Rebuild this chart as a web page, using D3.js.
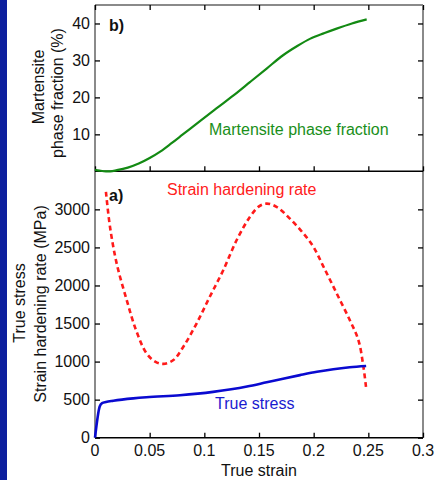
<!DOCTYPE html>
<html><head><meta charset="utf-8">
<script src="https://cdn.jsdelivr.net/npm/d3@7"></script>
<style>
html,body{margin:0;padding:0;background:#fff;}
svg{display:block;font-family:"Liberation Sans",Arial,sans-serif;}
</style></head>
<body>
<svg id="chart" width="436" height="484"></svg>
<script>
// ---- data ----
const xTicks = [0, 0.05, 0.1, 0.15, 0.2, 0.25, 0.3];
const xTickLabels = ["0", "0.05", "0.1", "0.15", "0.2", "0.25", "0.3"];
const topYTicks = [10, 20, 30, 40];
const bottomYTicks = [0, 500, 1000, 1500, 2000, 2500, 3000];

const martStrain = [0, 0.004, 0.010, 0.014, 0.020, 0.030, 0.040, 0.050, 0.060, 0.070, 0.080, 0.096, 0.111, 0.127, 0.142, 0.157, 0.172, 0.185, 0.197, 0.210, 0.221, 0.235, 0.2485];
const martFraction = [0.4, 0.2, 0.0, 0.0, 0.3, 1.0, 2.1, 3.6, 5.4, 7.6, 9.9, 13.6, 17.0, 20.6, 24.2, 27.8, 31.4, 33.9, 35.9, 37.4, 38.6, 40.0, 41.1];

const hardStrain = [0.010, 0.0137, 0.0198, 0.029, 0.0375, 0.047, 0.055, 0.0625, 0.0717, 0.0808, 0.093, 0.105, 0.1174, 0.1296, 0.1418, 0.150, 0.157, 0.166, 0.178, 0.1905, 0.1997, 0.209, 0.221, 0.233, 0.2409, 0.2455, 0.248];
const hardRate = [3231, 2772, 2290, 1809, 1415, 1110, 1000, 970, 1020, 1195, 1503, 1852, 2203, 2597, 2903, 3040, 3075, 3034, 2882, 2685, 2509, 2246, 1897, 1546, 1283, 933, 649];

const stressStrain = [0, 0.0043, 0.0065, 0.010, 0.0168, 0.035, 0.047, 0.0777, 0.108, 0.139, 0.157, 0.172, 0.1875, 0.203, 0.218, 0.233, 0.248];
const trueStress = [0, 410, 455, 470, 486, 517, 532, 558, 602, 672, 728, 775, 822, 866, 900, 925, 942];

// ---- layout ----
const svg = d3.select("#chart");
const L = 95, R = 423, T = 5, MID = 171.3, B = 437.7;
const font = 16;

svg.append("rect").attr("x",0).attr("y",0).attr("width",7).attr("height",480).attr("fill","#0d1f9e");

const x = d3.scaleLinear().domain([0, 0.3]).range([L, R]);
const yTop = d3.scaleLinear().domain([0, 45]).range([MID, T]);
const yBot = d3.scaleLinear().domain([0, 3500]).range([B, MID]);

// frames
const frameGray = "#8a8a8a";
svg.append("line").attr("x1",L).attr("x2",L).attr("y1",T).attr("y2",B).attr("stroke",frameGray).attr("stroke-width",2);
svg.append("line").attr("x1",R).attr("x2",R).attr("y1",T).attr("y2",B).attr("stroke",frameGray).attr("stroke-width",2);
svg.append("line").attr("x1",L).attr("x2",R).attr("y1",T).attr("y2",T).attr("stroke",frameGray).attr("stroke-width",2);

// ticks via axes
function tickAxis(g, axis){ g.call(axis); g.select(".domain").remove(); g.selectAll(".tick line").attr("stroke","#000").attr("stroke-width",1.3); g.selectAll("text").remove(); }

// top panel
svg.append("g").attr("transform",`translate(0,${T})`).call(g=>tickAxis(g, d3.axisBottom(x).tickValues(xTicks).tickSize(5)));
svg.append("g").attr("transform",`translate(0,${MID})`).call(g=>tickAxis(g, d3.axisTop(x).tickValues(xTicks).tickSize(5)));
svg.append("g").attr("transform",`translate(${L},0)`).call(g=>tickAxis(g, d3.axisRight(yTop).tickValues(topYTicks).tickSize(5)));
svg.append("g").attr("transform",`translate(${R},0)`).call(g=>tickAxis(g, d3.axisLeft(yTop).tickValues(topYTicks).tickSize(5)));
// bottom panel
svg.append("g").attr("transform",`translate(0,${B})`).call(g=>tickAxis(g, d3.axisTop(x).tickValues(xTicks).tickSize(5)));
svg.append("g").attr("transform",`translate(${L},0)`).call(g=>tickAxis(g, d3.axisRight(yBot).tickValues(bottomYTicks).tickSize(5)));
svg.append("g").attr("transform",`translate(${R},0)`).call(g=>tickAxis(g, d3.axisLeft(yBot).tickValues(bottomYTicks).tickSize(5)));

// divider and bottom axis lines
svg.append("line").attr("x1",L).attr("x2",R).attr("y1",MID).attr("y2",MID).attr("stroke","#000").attr("stroke-width",1.6);
svg.append("line").attr("x1",L).attr("x2",R).attr("y1",B).attr("y2",B).attr("stroke","#000").attr("stroke-width",1.6);

// tick labels
svg.append("g").selectAll("text").data(topYTicks).join("text")
  .attr("x",90).attr("y",d=>yTop(d)).attr("dy","0.36em").attr("text-anchor","end")
  .attr("font-size",font).attr("fill","#111").text(d=>d);
svg.append("g").selectAll("text").data(bottomYTicks).join("text")
  .attr("x",90).attr("y",d=>yBot(d)).attr("dy","0.36em").attr("text-anchor","end")
  .attr("font-size",font).attr("fill","#111").text(d=>d);
svg.append("g").selectAll("text").data(xTicks).join("text")
  .attr("x",d=>x(d)).attr("y",456).attr("text-anchor","middle")
  .attr("font-size",font).attr("fill","#111").text((d,i)=>xTickLabels[i]);

// axis titles
svg.append("text").attr("x",259).attr("y",476).attr("text-anchor","middle").attr("font-size",font).attr("fill","#111").text("True strain");
function vtext(cx, cy, s){
  svg.append("text").attr("transform",`translate(${cx},${cy}) rotate(-90)`).attr("dy","0.35em")
    .attr("text-anchor","middle").attr("font-size",font).attr("fill","#111").text(s);
}
vtext(38, 87, "Martensite");
vtext(57, 93, "phase fraction (%)");
vtext(19, 303, "True stress");
vtext(40, 304, "Strain hardening rate (MPa)");

// panel labels
svg.append("text").attr("x",109).attr("y",31).attr("font-size",font).attr("font-weight","bold").attr("fill","#111").text("b)");
svg.append("text").attr("x",109).attr("y",201).attr("font-size",font).attr("font-weight","bold").attr("fill","#111").text("a)");

// curves
const lineTop = d3.line().x(d=>x(d[0])).y(d=>yTop(d[1])).curve(d3.curveMonotoneX);
const lineBot = d3.line().x(d=>x(d[0])).y(d=>yBot(d[1])).curve(d3.curveCatmullRom.alpha(0.5));

svg.append("path").attr("d", lineTop(d3.zip(martStrain, martFraction)))
  .attr("fill","none").attr("stroke","#138a13").attr("stroke-width",2.2);

svg.append("path").attr("d", lineBot(d3.zip(hardStrain, hardRate)))
  .attr("fill","none").attr("stroke","#ff1a1a").attr("stroke-width",2.6).attr("stroke-dasharray","5,3.5");

svg.append("path").attr("d", d3.line().x(d=>x(d[0])).y(d=>yBot(d[1])).curve(d3.curveMonotoneX)(d3.zip(stressStrain, trueStress)))
  .attr("fill","none").attr("stroke","#0a0ad0").attr("stroke-width",2.6).attr("stroke-linejoin","round");

// series labels
svg.append("text").attr("x",209).attr("y",135).attr("font-size",font).attr("fill","#1a8f1a").text("Martensite phase fraction");
svg.append("text").attr("x",167).attr("y",195).attr("font-size",font).attr("fill","#ff2020").text("Strain hardening rate");
svg.append("text").attr("x",215).attr("y",409).attr("font-size",font).attr("fill","#1a1ad0").text("True stress");
</script>
</body></html>
